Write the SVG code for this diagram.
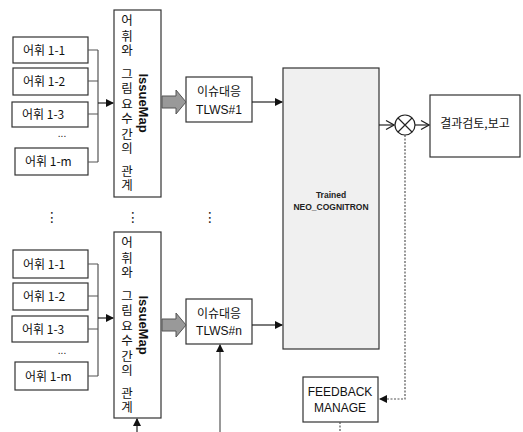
<svg xmlns="http://www.w3.org/2000/svg" width="523" height="432" viewBox="0 0 523 432">
<style>
.box{fill:#fff;stroke:#333;stroke-width:1.2}
.big{fill:#f0f0f0;stroke:#333;stroke-width:1.2}
.kr{font-family:"Noto Sans CJK KR","Liberation Sans",sans-serif;font-size:12px;fill:#111}
.lat{font-family:"Liberation Sans","Noto Sans CJK KR",sans-serif;font-size:12px;fill:#111}
.vt{font-family:"Noto Sans CJK KR",sans-serif;font-size:12.5px;fill:#111;writing-mode:vertical-rl;text-orientation:upright}
.im{font-family:"Liberation Sans",sans-serif;font-size:13px;font-weight:bold;fill:#111;text-anchor:middle}
.nc{font-family:"Liberation Sans",sans-serif;font-size:8.5px;font-weight:bold;fill:#222;text-anchor:middle}
.mid{text-anchor:middle}
.br{fill:none;stroke:#555;stroke-width:1.2}
.ln{fill:none;stroke:#222;stroke-width:1.2}
.dot{fill:none;stroke:#555;stroke-width:1.2;stroke-dasharray:2 1.5}
.gar{fill:#999;stroke:#555;stroke-width:1}
.dots{font-family:"DejaVu Sans",sans-serif;font-size:14px;fill:#222;text-anchor:middle}
</style>
<defs>
<marker id="ah" markerWidth="8" markerHeight="8" refX="7" refY="4" orient="auto" markerUnits="userSpaceOnUse"><path d="M0,0 L8,4 L0,8 Z" fill="#111"/></marker>
<marker id="av" markerWidth="10" markerHeight="10" refX="9" refY="5" orient="auto" markerUnits="userSpaceOnUse"><path d="M1,0.5 L9,5 L1,9.5" fill="none" stroke="#222" stroke-width="1.2"/></marker>
</defs>

<g id="vocab-top">
<g id="v1-1"><rect class="box" x="13" y="37" width="75" height="26"/><text class="kr" x="23" y="55">어휘 1-1</text></g>
<g id="v1-2"><rect class="box" x="13" y="68" width="75" height="27"/><text class="kr" x="23" y="86">어휘 1-2</text></g>
<g id="v1-3"><rect class="box" x="12" y="102" width="76" height="25"/><text class="kr" x="22" y="119">어휘 1-3</text></g>
<text class="lat mid" x="62" y="137" style="font-size:10px">...</text>
<g id="v1-m"><rect class="box" x="15" y="148" width="73" height="27"/><text class="kr" x="25" y="166">어휘 1-m</text></g>
</g>

<g id="issuemap-top">
<rect class="box" x="114" y="10" width="47" height="187"/>
<text class="vt"><tspan x="127" y="14">어</tspan><tspan x="127" y="29">휘</tspan><tspan x="127" y="44">와</tspan><tspan x="127" y="67">그</tspan><tspan x="127" y="82">림</tspan><tspan x="127" y="97">요</tspan><tspan x="127" y="112">수</tspan><tspan x="127" y="127">간</tspan><tspan x="127" y="142">의</tspan><tspan x="127" y="164">관</tspan><tspan x="127" y="179">계</tspan></text>
<text class="im" transform="translate(143,103) rotate(90)" y="4">IssueMap</text>
</g>

<g id="tlws1"><rect class="box" x="186" y="77" width="66" height="45"/><text class="kr mid" x="219" y="96">이슈대응</text><text class="lat mid" x="219" y="114">TLWS#1</text></g>

<g id="vdots">
<text class="dots" x="52" y="222">⋮</text>
<text class="dots" x="133" y="222">⋮</text>
<text class="dots" x="210" y="222">⋮</text>
</g>

<g id="vocab-bot">
<g id="w1-1"><rect class="box" x="13" y="250" width="75" height="28"/><text class="kr" x="23" y="269">어휘 1-1</text></g>
<g id="w1-2"><rect class="box" x="13" y="283" width="75" height="27"/><text class="kr" x="23" y="301">어휘 1-2</text></g>
<g id="w1-3"><rect class="box" x="12" y="316" width="76" height="26"/><text class="kr" x="22" y="334">어휘 1-3</text></g>
<text class="lat mid" x="62" y="354" style="font-size:10px">...</text>
<g id="w1-m"><rect class="box" x="15" y="362" width="73" height="28"/><text class="kr" x="25" y="381">어휘 1-m</text></g>
</g>

<g id="issuemap-bot">
<rect class="box" x="114" y="232" width="47" height="186"/>
<text class="vt"><tspan x="127" y="236">어</tspan><tspan x="127" y="251">휘</tspan><tspan x="127" y="266">와</tspan><tspan x="127" y="289">그</tspan><tspan x="127" y="304">림</tspan><tspan x="127" y="319">요</tspan><tspan x="127" y="334">수</tspan><tspan x="127" y="349">간</tspan><tspan x="127" y="364">의</tspan><tspan x="127" y="386">관</tspan><tspan x="127" y="401">계</tspan></text>
<text class="im" transform="translate(143,325) rotate(90)" y="4">IssueMap</text>
</g>

<g id="tlwsn"><rect class="box" x="186" y="299" width="66" height="45"/><text class="kr mid" x="219" y="318">이슈대응</text><text class="lat mid" x="219" y="335">TLWS#n</text></g>

<g id="neo"><rect class="big" x="283" y="68" width="96" height="281"/><text class="nc" x="331" y="198">Trained</text><text class="nc" x="331" y="210">NEO_COGNITRON</text></g>

<g id="mult"><circle cx="405" cy="125" r="10" fill="#fff" stroke="#222" stroke-width="1.2"/><path d="M398,118 L412,132 M412,118 L398,132" stroke="#222" stroke-width="1.2"/></g>

<g id="result"><rect class="box" x="430" y="95" width="90" height="62"/><text class="kr mid" x="475" y="128">결과검토,보고</text></g>

<g id="feedback"><rect class="box" x="303" y="377" width="75" height="45"/><text class="lat mid" x="340" y="396">FEEDBACK</text><text class="lat mid" x="340" y="412">MANAGE</text></g>

<g id="connectors">
<path class="br" d="M88,50 H98 M88,81 H98 M88,114 H98 M88,162 H98 M98,50 V162"/>
<path class="ln" d="M98,103 H113" marker-end="url(#ah)"/>
<path class="br" d="M88,264 H98 M88,296 H98 M88,329 H98 M88,376 H98 M98,264 V376"/>
<path class="ln" d="M98,318 H113" marker-end="url(#ah)"/>
<path class="gar" d="M162,96 H176 V90 L186,102 L176,114 V108 H162 Z"/>
<path class="gar" d="M162,319 H176 V313 L186,325 L176,337 V331 H162 Z"/>
<path class="ln" d="M252,102 H282" marker-end="url(#ah)"/>
<path class="ln" d="M252,325 H282" marker-end="url(#ah)"/>
<path class="ln" d="M379,125 H394" marker-end="url(#av)"/>
<path class="ln" d="M415,125 H429" marker-end="url(#av)"/>
<path class="dot" d="M405,135 V399 H380" marker-end="url(#ah)"/>
<path class="dot" d="M340,422 V432"/>
<path class="ln" d="M137,432 V419" marker-end="url(#ah)"/>
<path class="br" d="M220,432 V345" marker-end="url(#ah)"/>
</g>
</svg>
